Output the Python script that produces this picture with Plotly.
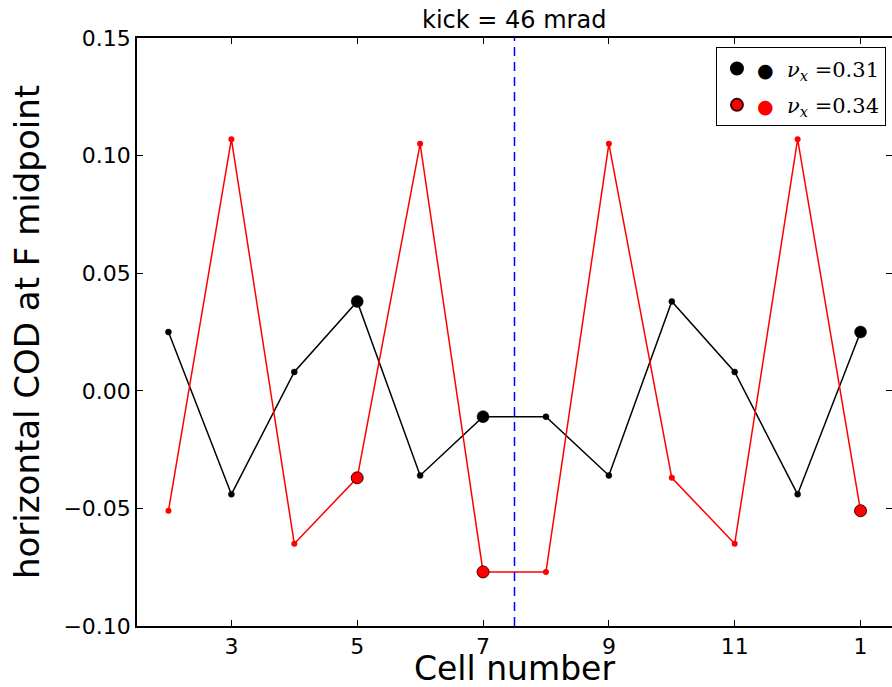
import plotly.graph_objects as go

cells = [2, 3, 4, 5, 6, 7, 8, 9, 10, 11, 12, 13]
tick_vals = [3, 5, 7, 9, 11, 13]
tick_text = ["3", "5", "7", "9", "11", "1"]
cod_031 = [0.025, -0.044, 0.008, 0.038, -0.036, -0.011, -0.011, -0.036, 0.038, 0.008, -0.044, 0.025]
cod_034 = [-0.051, 0.107, -0.065, -0.037, 0.105, -0.077, -0.077, 0.105, -0.037, -0.065, 0.107, -0.051]
bpm_cells = [5, 7, 13]
kick_pos = 7.5
y_range = [-0.10, 0.15]
y_ticks = [-0.10, -0.05, 0.0, 0.05, 0.10, 0.15]

def sizes(xs):
    return [12 if c in bpm_cells else 6 for c in xs]

fig = go.Figure()
fig.add_trace(go.Scatter(x=cells, y=cod_031, mode="lines+markers",
                         line=dict(color="black", width=1.5),
                         marker=dict(color="black", size=sizes(cells), opacity=1,
                                     line=dict(color="black", width=0.5)),
                         showlegend=False))
fig.add_trace(go.Scatter(x=cells, y=cod_034, mode="lines+markers",
                         line=dict(color="#ff0000", width=1.5),
                         marker=dict(color="#ff0000", size=sizes(cells), opacity=1,
                                     line=dict(color="#400000", width=[1 if c in bpm_cells else 0 for c in cells])),
                         showlegend=False))
fig.add_trace(go.Scatter(x=[kick_pos, kick_pos], y=y_range, mode="lines",
                         line=dict(color="#0000ff", width=1.5, dash="9px,6px"), showlegend=False))
# right-side tick marks (spine itself lies just outside the picture)
fig.add_trace(go.Scatter(x=[None], y=[None], yaxis="y2", showlegend=False))

# legend entries
fig.add_trace(go.Scatter(x=[None], y=[None], mode="markers", legendgroup="a",
                         marker=dict(color="black", size=11, opacity=1, line=dict(color="black", width=0.5)),
                         name="<span style='color:black;font-size:19px'>●</span>  <i>ν<sub>x</sub></i> =0.31"))
fig.add_trace(go.Scatter(x=[None], y=[None], mode="markers", legendgroup="b",
                         marker=dict(color="#ff0000", size=11, opacity=1, line=dict(color="#400000", width=0.8)),
                         name="<span style='color:#ff0000;font-size:19px'>●</span>  <i>ν<sub>x</sub></i> =0.34"))

tick_common = dict(ticks="inside", ticklen=6, tickcolor="black", showgrid=False, zeroline=False,
                   tickfont=dict(family="DejaVu Sans", size=22, color="black"))

fig.update_layout(
    width=892, height=687,
    margin=dict(l=137, r=0, t=38, b=61),
    paper_bgcolor="white", plot_bgcolor="white",
    title=dict(text="kick = 46 mrad", x=0.5765, xanchor="center", y=0.971, yanchor="middle",
               font=dict(family="DejaVu Sans", size=24, color="black")),
    xaxis=dict(range=[1.5, 13.5], tickvals=tick_vals, ticktext=tick_text,
               showline=True, linecolor="black", linewidth=1.5, mirror="ticks",
               **tick_common),
    yaxis=dict(range=y_range, tickvals=y_ticks, tickformat=".2f",
               showline=True, linecolor="black", linewidth=1.5, mirror=False,
               title=dict(text="horizontal COD at F midpoint", font=dict(family="DejaVu Sans", size=34, color="black"), standoff=14),
               **tick_common),
    yaxis2=dict(range=y_range, tickvals=y_ticks, showticklabels=False, overlaying="y", side="right",
                showline=False, ticks="inside", ticklen=6, tickcolor="black", showgrid=False, zeroline=False),
    legend=dict(x=0.992, xanchor="right", y=0.984, yanchor="top",
                bordercolor="black", borderwidth=1, bgcolor="white",
                font=dict(family="DejaVu Serif", size=21, color="black"),
                itemsizing="constant", tracegroupgap=6),
    annotations=[dict(text="Cell number", xref="paper", yref="paper", x=0.5, y=-0.073,
                      xanchor="center", yanchor="middle", showarrow=False,
                      font=dict(family="DejaVu Sans", size=33, color="black"))],
)

fig.write_html("out.html")
